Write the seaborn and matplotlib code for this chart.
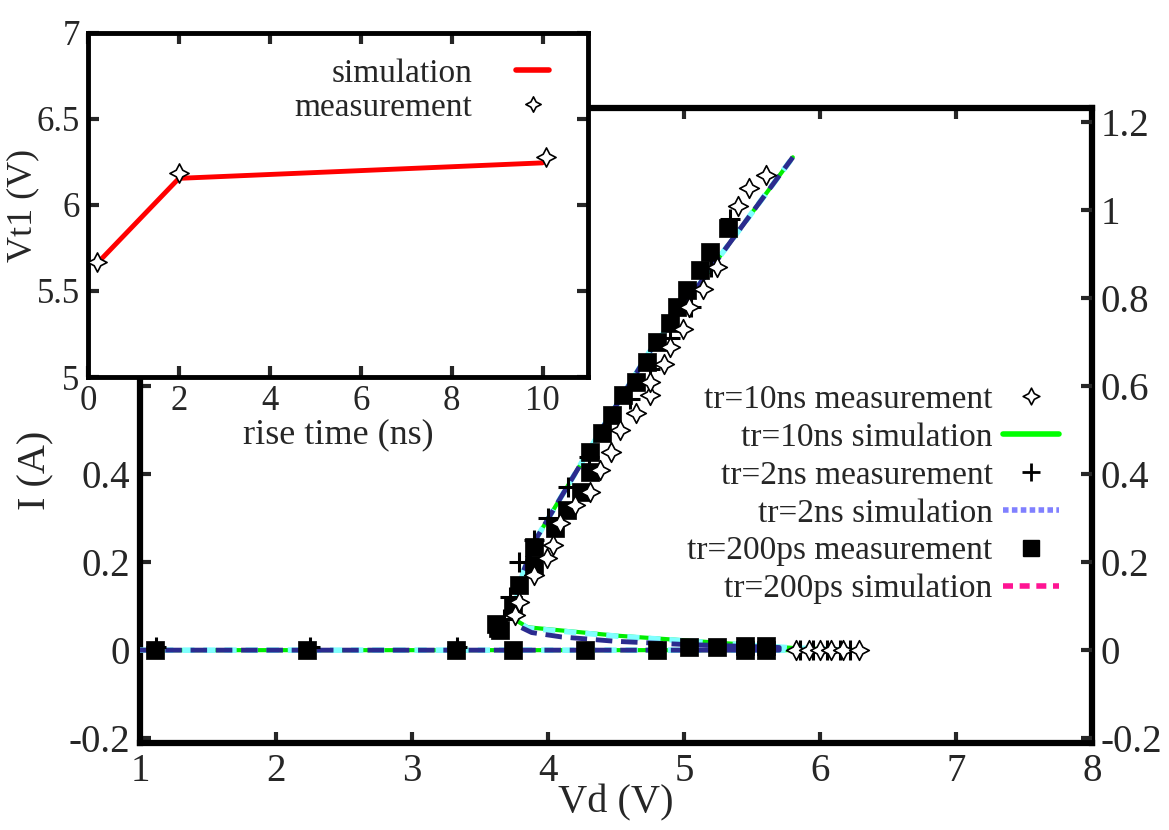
import numpy as np
import pandas as pd
import matplotlib.pyplot as plt
import seaborn as sns
from matplotlib.lines import Line2D
from matplotlib.path import Path

sns.set_theme(style="ticks")
plt.rcParams['font.family'] = ['Liberation Serif', 'DejaVu Serif']

# ---- inset data: Vt1 vs rise time
rise_sim = [0.2, 2.0, 10.0]
vt1_sim = [5.66, 6.155, 6.245]
rise_meas = [0.2, 2.0, 10.07]
vt1_meas = [5.67, 6.185, 6.28]

# ---- main data: TLP I-V, simulations (path follows snapback, not sorted)
vd_sim10 = [1.0, 6.27, 5.8, 5.2, 4.5, 3.85, 3.78, 3.76, 3.77, 3.82, 3.92, 4.1, 4.4, 4.74, 5.24, 5.8]
i_sim10 = [0.0, 0.0, 0.005, 0.018, 0.033, 0.052, 0.065, 0.09, 0.12, 0.18, 0.257, 0.35, 0.505, 0.675, 0.885, 1.12]
vd_sim2 = [1.0, 6.25, 5.8, 5.2, 4.5, 3.85, 3.78, 3.76, 3.77, 3.82, 3.92, 4.1, 4.4, 4.74, 5.24, 5.8]
i_sim2 = [0.0, 0.0, 0.005, 0.017, 0.032, 0.05, 0.065, 0.09, 0.12, 0.18, 0.257, 0.35, 0.505, 0.675, 0.885, 1.12]
vd_sim200 = [1.0, 5.7, 5.7, 5.0, 4.5, 4.1, 3.88, 3.8, 3.77, 3.77, 3.82, 3.92, 4.1, 4.4, 4.74, 5.24, 5.8]
i_sim200 = [0.0, 0.0, 0.006, 0.013, 0.02, 0.03, 0.04, 0.052, 0.08, 0.12, 0.18, 0.257, 0.35, 0.505, 0.675, 0.885, 1.12]

# ---- measurements
vd_m10 = [3.76, 3.79, 3.90, 3.99, 4.04, 4.09, 4.20, 4.31, 4.38, 4.46, 4.53, 4.65, 4.75, 4.75,
          4.85, 4.90, 4.99, 5.04, 5.14, 5.24, 5.40, 5.48, 5.60, 5.82, 5.92, 6.00, 6.08, 6.17, 6.29]
i_m10 = [0.08, 0.11, 0.17, 0.21, 0.24, 0.29, 0.33, 0.36, 0.41, 0.45, 0.50, 0.54, 0.58, 0.61,
         0.65, 0.69, 0.73, 0.78, 0.82, 0.87, 1.01, 1.05, 1.08, 0.0, 0.0, 0.0, 0.0, 0.0, 0.0]

vd_m2 = [1.12, 2.25, 3.33, 3.68, 3.72, 3.79, 3.90, 4.00, 4.15, 4.30, 4.45, 4.60, 4.75, 4.90,
         5.05, 5.20, 5.34, 5.85, 5.95, 6.05, 6.15, 6.22]
i_m2 = [0.008, 0.008, 0.008, 0.07, 0.12, 0.20, 0.25, 0.30, 0.37, 0.44, 0.50, 0.57, 0.64, 0.71,
        0.78, 0.87, 0.98, 0.0, 0.0, 0.0, 0.0, 0.0]

vd_m200 = [1.11, 2.23, 3.32, 3.74, 4.27, 4.80, 5.04, 5.24, 5.45, 5.60, 5.45, 5.60,
           3.62, 3.65, 3.63, 3.74, 3.79, 3.90, 3.90, 4.05, 4.14, 4.24, 4.31, 4.31, 4.40, 4.47,
           4.55, 4.65, 4.73, 4.80, 4.90, 4.95, 5.02, 5.12, 5.19, 5.32]
i_m200 = [0.0, 0.0, 0.0, 0.0, 0.0, 0.0, 0.007, 0.007, 0.01, 0.01, 0.0, 0.0,
          0.06, 0.045, 0.05, 0.102, 0.148, 0.193, 0.234, 0.277, 0.318, 0.36, 0.405, 0.45, 0.493, 0.534,
          0.58, 0.609, 0.655, 0.70, 0.743, 0.78, 0.818, 0.864, 0.905, 0.96]

labels = ["tr=10ns measurement", "tr=10ns simulation", "tr=2ns measurement",
          "tr=2ns simulation", "tr=200ps measurement", "tr=200ps simulation"]

# concave four point star used for the "measurement" points
k = 0.34
star = Path([(0, 1), (k, k), (1, 0), (k, -k), (0, -1), (-k, -k),
             (-1, 0), (-k, k), (0, 1)], closed=True)

fig = plt.figure(figsize=(11.69, 8.30), dpi=100)
W, H = 1169, 830
ax = fig.add_axes([140 / W, 1 - 743 / H, 952 / W, 635 / H])

# simulation curves
sns.lineplot(x=vd_sim10, y=i_sim10, sort=False, estimator=None, ax=ax, color="#00ee00", lw=3.0, zorder=2)
sns.lineplot(x=vd_sim2, y=i_sim2, sort=False, estimator=None, ax=ax, color="#80ffff", lw=4.0,
             linestyle=(0, (2.2, 1.6)), zorder=3)
sns.lineplot(x=vd_sim200, y=i_sim200, sort=False, estimator=None, ax=ax, color="#2b2b8f", lw=3.5,
             linestyle=(0, (3.4, 1.8)), zorder=4)

# measurement points
sns.scatterplot(x=vd_m200, y=i_m200, ax=ax, marker="s", color="black", s=160, edgecolor="black",
                linewidth=0.5, zorder=5)
sns.scatterplot(x=vd_m2, y=i_m2, ax=ax, marker="+", color="black", s=220, linewidth=2.2, zorder=6)
sns.scatterplot(x=vd_m10, y=i_m10, ax=ax, marker=star, color="white", s=200, edgecolor="black",
                linewidth=1.2, zorder=6)

ax.set_xlim(1, 8)
ax.set_ylim(-0.211, 1.232)
ax.set_xticks(range(1, 9))
yt = [-0.2, 0, 0.2, 0.4, 0.6, 0.8, 1.0, 1.2]
ax.set_yticks(yt)
ax.set_yticklabels(["-0.2", "0", "0.2", "0.4", "", "", "", ""])
ax.tick_params(axis="both", direction="in", length=8, width=3, labelsize=28, pad=7,
               top=True, right=False)
ax.set_xlabel("Vd (V)", fontsize=29, labelpad=-4)
ax.set_ylabel("I (A)", fontsize=29)
ax.yaxis.set_label_coords(-0.09, 0.43)
for sp in ax.spines.values():
    sp.set_linewidth(4.5)
    sp.set_color("black")

ax2 = ax.twinx()
ax2.set_ylim(ax.get_ylim())
ax2.set_yticks(yt)
ax2.set_yticklabels(["-0.2", "0", "0.2", "0.4", "0.6", "0.8", "1", "1.2"])
ax2.tick_params(axis="y", direction="in", length=8, width=3, labelsize=28, pad=6)
for sp in ax2.spines.values():
    sp.set_visible(False)

handles = [
    Line2D([], [], marker=star, ls="none", mfc="white", mec="black", ms=12, mew=1.2),
    Line2D([], [], color="#00ff00", lw=4),
    Line2D([], [], marker="+", ls="none", color="black", ms=13, mew=2),
    Line2D([], [], color="#8080ff", lw=4, ls=(0, (1, 0.6))),
    Line2D([], [], marker="s", ls="none", color="black", ms=12),
    Line2D([], [], color="#ff1493", lw=4, ls=(0, (1.8, 1.2))),
]
ax.legend(handles, labels, loc="upper right", bbox_to_anchor=(1076 / W, 1 - 368 / H),
          bbox_transform=fig.transFigure, frameon=False, markerfirst=False, fontsize=24,
          handlelength=1.7, handletextpad=0.3, labelspacing=0.22, borderpad=0)

# ---- inset
axi = fig.add_axes([88 / W, 1 - 377 / H, 500 / W, 344 / H])
axi.set_facecolor("white")
axi.set_zorder(10)
sns.lineplot(x=rise_sim, y=vt1_sim, ax=axi, color="red", lw=3.5, sort=False, estimator=None)
sns.scatterplot(x=rise_meas, y=vt1_meas, ax=axi, marker=star, color="white", s=190,
                edgecolor="black", linewidth=1.2, zorder=5)
axi.set_xlim(0, 11)
axi.set_ylim(5, 7)
axi.set_xticks([0, 2, 4, 6, 8, 10])
axi.set_yticks([5, 5.5, 6, 6.5, 7])
axi.set_yticklabels(["5", "5.5", "6", "6.5", "7"])
axi.tick_params(axis="both", direction="in", length=8, width=3, labelsize=25, pad=6,
                top=True, right=True)
axi.set_xlabel("rise time (ns)", fontsize=26, labelpad=0)
axi.set_ylabel("Vt1 (V)", fontsize=26, labelpad=-2)
for sp in axi.spines.values():
    sp.set_linewidth(3.5)
    sp.set_color("black")
ih = [Line2D([], [], color="red", lw=4),
      Line2D([], [], marker=star, ls="none", mfc="white", mec="black", ms=11, mew=1.2)]
axi.legend(ih, ["simulation", "measurement"], loc="upper right",
           bbox_to_anchor=(566 / W, 1 - 42 / H), bbox_transform=fig.transFigure,
           frameon=False, markerfirst=False, fontsize=24, handlelength=1.0,
           handletextpad=1.3, labelspacing=0.1, borderpad=0)

fig.savefig("out.png", dpi=100)
